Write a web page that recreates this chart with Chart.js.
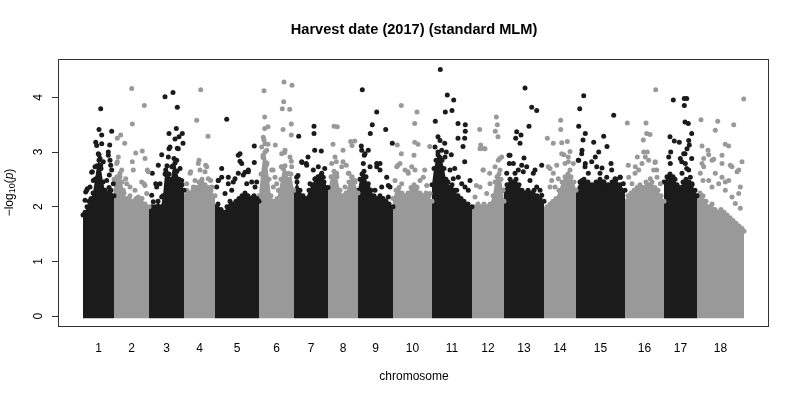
<!DOCTYPE html>
<html>
<head>
<meta charset="utf-8">
<script src="https://cdn.jsdelivr.net/npm/chart.js@4.4.0/dist/chart.umd.min.js"></script>
<style>
html, body { margin: 0; padding: 0; background: #fff; }
</style>
</head>
<body>
<canvas id="manhattan" width="800" height="400"></canvas>
<script>
// chromosome labels and their lengths (cumulative axis units)
const chromosomes = ['1','2','3','4','5','6','7','8','9','10','11','12','13','14','15','16','17','18'];
const chromLengths = [31, 35, 35, 31, 44, 35, 34, 30, 35, 39, 40, 32, 40, 32, 49, 39, 33, 47];
const yTicks = [0, 1, 2, 3, 4];
const plotTitle = 'Harvest date (2017) (standard MLM)';

// top of the solid mass of SNPs per chromosome: [position in chromosome, -log10(p)]
const denseTop = [
    [[0,1.85],[2,1.9],[4,2.0],[6,2.1],[8,2.15],[10,2.25],[12,2.5],[14,2.75],[16,2.85],[18,2.7],[20,2.45],[22,2.3],[24,2.25],[26,2.35],[28,2.3],[31,2.2]],
    [[0,2.5],[3,2.55],[6,2.55],[8,2.45],[10,2.25],[13,2.15],[16,2.2],[19,2.1],[22,2.15],[25,2.1],[28,2.15],[31,2.05],[35,2.0]],
    [[0,1.95],[3,2.0],[6,2.0],[9,2.1],[12,2.0],[14,2.2],[16,2.6],[18,2.75],[20,2.6],[22,2.5],[24,2.75],[26,2.8],[28,2.65],[30,2.5],[33,2.4],[35,2.3]],
    [[0,2.2],[3,2.3],[6,2.25],[9,2.3],[12,2.35],[15,2.45],[18,2.5],[21,2.4],[24,2.35],[27,2.3],[31,2.2]],
    [[0,2.0],[3,2.05],[6,1.95],[9,1.9],[12,2.0],[15,2.1],[18,2.05],[21,2.1],[24,2.15],[27,2.2],[30,2.25],[33,2.2],[36,2.15],[39,2.2],[42,2.15],[44,2.1]],
    [[0,2.2],[2,2.6],[4,2.9],[6,3.0],[8,2.8],[10,2.5],[12,2.2],[15,2.1],[18,2.15],[20,2.3],[22,2.5],[24,2.7],[26,2.75],[28,2.6],[30,2.5],[32,2.6],[35,2.3]],
    [[0,2.3],[3,2.45],[6,2.3],[9,2.2],[12,2.15],[15,2.3],[18,2.4],[21,2.5],[24,2.55],[27,2.5],[30,2.45],[34,2.35]],
    [[0,2.3],[3,2.55],[6,2.65],[9,2.55],[12,2.3],[15,2.2],[18,2.25],[21,2.45],[24,2.55],[27,2.45],[30,2.25]],
    [[0,2.3],[2,2.5],[4,2.6],[6,2.65],[8,2.55],[10,2.35],[13,2.3],[16,2.2],[19,2.15],[22,2.2],[25,2.15],[28,2.1],[31,2.05],[35,2.0]],
    [[0,2.15],[3,2.3],[6,2.35],[9,2.25],[12,2.2],[15,2.25],[18,2.35],[21,2.4],[24,2.35],[27,2.25],[30,2.2],[33,2.25],[36,2.2],[39,2.1]],
    [[0,2.4],[2,2.7],[4,2.85],[6,2.95],[8,2.9],[10,2.85],[12,2.7],[14,2.5],[16,2.45],[18,2.35],[20,2.4],[23,2.3],[26,2.2],[29,2.15],[32,2.1],[36,2.05],[40,2.0]],
    [[0,1.95],[3,2.0],[6,2.05],[9,2.0],[12,2.05],[15,2.0],[18,2.05],[21,2.2],[23,2.45],[25,2.55],[27,2.6],[29,2.5],[31,2.3],[32,2.1]],
    [[0,2.3],[3,2.4],[6,2.5],[9,2.45],[12,2.5],[15,2.4],[18,2.3],[21,2.25],[24,2.3],[27,2.25],[30,2.3],[33,2.2],[36,2.15],[40,2.1]],
    [[0,1.95],[3,2.0],[6,2.05],[9,2.1],[12,2.15],[15,2.3],[18,2.45],[21,2.55],[24,2.6],[27,2.55],[30,2.45],[32,2.3]],
    [[0,2.3],[4,2.45],[8,2.5],[12,2.45],[16,2.4],[20,2.45],[24,2.5],[28,2.45],[32,2.4],[36,2.45],[40,2.5],[44,2.4],[49,2.3]],
    [[0,2.1],[3,2.2],[6,2.25],[9,2.3],[12,2.35],[15,2.4],[18,2.35],[21,2.45],[24,2.4],[27,2.45],[30,2.35],[33,2.3],[36,2.2],[39,2.1]],
    [[0,2.45],[3,2.55],[6,2.6],[9,2.55],[11,2.5],[13,2.4],[16,2.35],[19,2.45],[22,2.5],[25,2.45],[28,2.4],[31,2.3],[33,2.2]],
    [[0,2.2],[3,2.25],[6,2.2],[9,2.1],[12,2.0],[15,2.05],[18,1.95],[21,1.9],[24,1.95],[27,1.9],[30,1.85],[33,1.8],[36,1.75],[39,1.7],[42,1.65],[45,1.6],[47,1.55]]
];

// speckled SNPs just above the solid mass: [position in chromosome, -log10(p)]
const bandHits = [
    [[3.7,2.30],[2,2.12],[8.7,2.63],[10.3,2.48],[7,2.36],[15.3,2.97],[17,2.88],[20.3,2.82],[25.3,3.0],[27,2.85],[28.7,2.67],[26.3,2.58],[23.7,2.48],[18.7,3.15],[13.7,3.12],[12,2.73],[30.3,2.42]],
    [[2.7,2.79],[6,2.61],[4.3,2.91],[7.7,2.67],[16,2.36],[21,2.30],[27.7,2.45],[32.7,2.24],[12.7,2.42],[24.3,2.18],[31,2.39],[9.3,2.30],[19.3,2.67],[34.3,2.64]],
    [[2.7,2.21],[7.7,2.36],[11,2.42],[4.3,2.09],[19.3,2.91],[21,3.09],[26,3.24],[29.3,3.06],[27.7,2.85],[31,2.7],[22.7,2.73],[17.7,2.58],[32.7,2.48],[12.7,2.18]],
    [[6,2.61],[11,2.48],[16,2.67],[21,2.64],[24.3,2.51],[27.7,2.36],[9.3,2.36],[2.7,2.42],[17.7,2.45],[22.7,2.73],[14.3,2.79]],
    [[3.3,2.48],[6.7,2.54],[13.3,2.42],[16.7,2.30],[20,2.51],[23.3,2.61],[28.3,2.58],[31.7,2.42],[36.7,2.45],[40,2.36],[25,2.97],[26.7,2.79],[33.3,2.67],[1.7,2.36],[10,2.24],[38.3,2.18]],
    [[4.3,3.27],[6,3.15],[7.7,3.03],[2.7,3.09],[12.7,2.67],[16,2.54],[17.7,2.42],[22.7,2.97],[26,3.03],[31,2.91],[32.7,2.73],[24.3,2.73],[14.3,2.36],[19.3,2.30],[29.3,2.61]],
    [[2.7,2.54],[7.7,2.82],[12.7,2.76],[19.3,2.67],[24.3,2.73],[27.7,2.61],[29.3,2.54],[21,2.51],[16,2.42],[31,2.36],[4.3,2.30]],
    [[3.7,2.79],[7,2.91],[8.7,2.61],[13.7,2.73],[20.3,2.61],[23.7,2.54],[27,2.48],[17,2.36]],
    [[3.7,3.03],[7,2.97],[5.3,2.79],[12,2.73],[18.7,2.79],[22,2.67],[28.7,2.54],[32,2.36],[23.7,2.36],[17,2.30],[10.3,2.42],[30.3,2.18]],
    [[3.7,2.73],[7,2.79],[12,2.67],[15.3,2.61],[18.7,2.73],[22,2.67],[27,2.48],[30.3,2.54],[33.7,2.39],[8.7,2.42],[23.7,2.36],[37,2.24],[2,2.48]],
    [[3,3.09],[8,3.21],[9.7,3.03],[13,2.91],[6.3,2.67],[18,2.67],[21.3,2.51],[26.3,2.54],[29.7,2.42],[33,2.36],[36.3,2.30],[38,2.48],[24.7,2.30]],
    [[3,2.18],[8,2.36],[11.3,2.67],[14.7,2.24],[18,2.42],[23,2.73],[26.3,2.85],[29.7,2.91],[28,2.67],[8,3.06],[13,3.06]],
    [[6,2.94],[9.3,2.79],[14.3,2.67],[17.7,2.76],[19.3,2.64],[22.7,2.73],[29.3,2.61],[32.7,2.36],[36,2.30],[37.7,2.21],[2.7,2.61],[26,2.48]],
    [[4.3,2.73],[9.3,2.61],[7.7,2.48],[14.3,2.51],[17.7,2.97],[21,2.79],[24.3,2.91],[26,2.67],[29.3,2.79],[6,2.36],[11,2.36]],
    [[2.3,2.85],[5.7,2.97],[9,2.73],[12.3,2.61],[15.7,2.82],[20.7,2.73],[24,2.61],[30.7,2.54],[35.7,2.67],[39,2.51],[44,2.54],[47.3,2.42],[27.3,2.45]],
    [[3.7,2.54],[10.3,2.73],[13.7,2.67],[17,2.79],[20.3,2.91],[23.7,2.85],[28.7,2.67],[32,2.54],[35.3,2.42],[7,2.42],[25.3,2.51],[18.7,3.0],[30.3,2.82]],
    [[4.7,2.91],[6.3,2.79],[16.3,2.88],[19.7,2.97],[21.3,2.79],[24.7,2.67],[26.3,2.54],[28,2.42],[18,2.61],[23,3.06],[24.7,3.21]],
    [[3.3,2.61],[6.7,2.73],[11.7,2.48],[15,2.36],[18.3,2.61],[21.7,2.42],[25,2.54],[28.3,2.30],[31.7,2.48],[35,2.18],[38.3,2.06],[41.7,2.24],[43.3,1.97],[6.7,2.88],[15,2.85],[25,2.79],[35,2.73],[40,2.64]]
];

// single SNPs standing well above the mass: [position in chromosome, -log10(p)]
const topHits = [
    [[17.7,3.79],[16,3.41],[18.7,3.31],[28.7,3.38],[26.7,3.13],[12.7,3.18],[16,2.95],[25.3,2.94],[9.3,2.64],[4.3,2.33],[2.7,2.27],[27.7,2.76],[17.7,2.76],[13.3,2.51]],
    [[17.7,4.16],[30.3,3.85],[18.3,3.51],[6.7,3.31],[3.3,3.25],[10.7,3.16],[21.7,2.98],[28.3,3.02],[3.3,2.82],[18.3,2.82],[31,2.88],[33.3,2.67],[11.7,2.51],[30,2.42]],
    [[16,4.01],[24,4.09],[28.3,3.82],[27.3,3.43],[33.3,3.34],[20,3.34],[30,3.28],[34,3.16],[20,3.06],[28.3,3.07],[12.7,2.95],[25,2.88],[9.3,2.76],[3.3,2.61],[16.7,2.67],[6.7,2.42]],
    [[16.7,4.14],[12.7,3.58],[24,3.29],[15,2.85],[21.7,2.76],[6.7,2.64],[26.7,2.48]],
    [[11.7,3.6],[39.3,3.11],[23.3,2.94],[39.3,2.81],[6.7,2.7],[25,2.83],[3.3,2.48],[13.3,2.54],[30,2.63],[33.3,2.64],[18.3,2.45],[41.7,2.45]],
    [[5,4.12],[25,4.28],[33,4.22],[24.7,3.92],[23.3,3.79],[30.7,3.78],[5.7,3.64],[32.3,3.51],[9,3.46],[5.7,3.43],[24,3.41],[32.3,3.31],[9,3.14],[16.3,3.13],[5,3.22],[25.7,2.99],[32.3,2.83],[4,2.94],[7.3,2.76],[22.3,2.73],[14,2.67]],
    [[4.7,3.29],[20,3.47],[20,3.34],[27.3,3.02],[20.7,3.03],[14,2.91],[8,2.81],[12.3,2.79],[30.7,2.7],[4,2.57],[26.7,2.57]],
    [[6,3.47],[9.3,3.46],[5,3.14],[15,3.03],[22.7,3.19],[26.7,3.2],[24,3.12],[8.3,2.82],[15,2.82],[21,2.61],[18.3,2.76]],
    [[4.3,4.14],[18.7,3.73],[14.3,3.5],[12.3,3.34],[3.3,3.11],[10.3,3.03],[6.3,2.94],[27.7,3.41],[34.3,3.16],[22,2.79],[18.7,2.73],[30.3,2.39]],
    [[8.3,3.85],[24,3.73],[21.7,3.52],[4.3,3.13],[21.7,3.18],[25,3.14],[36.7,3.1],[8.3,2.97],[21,2.94],[31.7,2.67],[15,2.64],[5,2.76]],
    [[8.3,4.51],[15.3,4.04],[21.7,3.95],[13.3,3.73],[20,3.76],[3.3,3.56],[26,3.52],[33.3,3.5],[33.3,3.38],[32.7,3.25],[26,3.25],[6,3.28],[12.7,3.16],[31,3.1],[6,3.0],[19.3,2.95],[14.3,3.0],[32.7,2.82],[22.7,2.7]],
    [[24.3,3.64],[25.3,3.5],[7.7,3.41],[26,3.28],[8.7,3.13],[12,3.06],[23.3,3.38],[27.7,2.88],[11,2.67],[17.7,2.61],[4.3,2.39]],
    [[21,4.17],[27.7,3.82],[32.7,3.76],[25,3.47],[12.7,3.37],[17,3.31],[11.7,3.25],[16,3.16],[5,2.94],[20,2.89],[37.7,2.76],[5.3,2.79],[11,2.61],[31,2.67]],
    [[16.7,3.58],[16.7,3.41],[3.3,3.25],[9.3,3.16],[17.7,3.17],[23.3,3.19],[20,2.95],[26,3.01],[12.7,2.76],[24.3,2.82],[6,2.7]],
    [[7.7,4.03],[3.7,3.79],[37.7,3.67],[2.7,3.47],[9.3,3.34],[27.7,3.29],[7,3.22],[17.7,3.18],[31,3.1],[22.7,3.0],[6,3.03],[19.3,2.91],[26,2.71],[35,2.79],[9.3,2.79],[2.7,2.85],[44.3,2.54],[6,2.48]],
    [[30.7,4.14],[2.3,3.53],[21,3.53],[21.7,3.34],[25,3.32],[18.3,3.22],[12.3,2.91],[22.3,3.0],[30,2.81],[3.3,2.76],[10,2.61],[31.7,2.67]],
    [[9.3,3.95],[20.3,3.98],[22.7,3.98],[20.3,3.85],[21,3.55],[24.3,3.52],[6,3.28],[27.7,3.34],[10.3,3.2],[15.3,3.18],[25.3,3.13],[6.7,3.0],[21,2.97],[17.7,2.82],[27.7,2.88],[22.7,2.7]],
    [[46.7,3.97],[4,3.59],[20.7,3.56],[36.7,3.5],[18.3,3.4],[28.3,3.14],[31.7,3.11],[5,3.11],[11,3.03],[11.7,2.95],[25,2.94],[16.7,2.87],[45,2.82],[33.3,2.76],[41.7,2.67],[5,2.79],[6,2.48],[28.3,2.45],[43.3,2.36]]
];

const colBlack = '#1b1b1b';
const colGrey = '#999999';
const fontFamily = '"Liberation Sans", Arial, Helvetica, sans-serif';

// cumulative starts and midpoints for the axis
let chromStarts = [];
let chromMids = [];
let acc = 0;
for (var i = 0; i < chromLengths.length; i++) {
    chromStarts.push(acc);
    chromMids.push(acc + chromLengths[i] / 2);
    acc += chromLengths[i];
}

function toPoints(list, start) {
    return list.map(p => ({ x: start + p[0], y: p[1] }));
}

let datasets = [];
for (var i = 0; i < chromosomes.length; i++) {
    let color = (i % 2 === 0) ? colBlack : colGrey;
    let start = chromStarts[i];
    datasets.push({
        type: 'line',
        label: 'chr' + chromosomes[i] + ' mass',
        data: toPoints(denseTop[i], start),
        borderWidth: 0,
        borderColor: color,
        backgroundColor: color,
        pointRadius: 2.5,
        pointBackgroundColor: color,
        pointBorderWidth: 0,
        fill: { value: -0.04 },
        tension: 0,
        order: 3
    });
    datasets.push({
        type: 'scatter',
        label: 'chr' + chromosomes[i],
        data: toPoints(bandHits[i], start).concat(toPoints(topHits[i], start)),
        pointRadius: 2.5,
        pointBackgroundColor: color,
        pointBorderWidth: 0,
        order: 1
    });
}

const framePlugin = {
    id: 'frame',
    afterDraw(chart) {
        const ctx = chart.ctx;
        const a = chart.chartArea;
        const yScale = chart.scales.y;
        ctx.save();
        ctx.strokeStyle = '#333';
        ctx.lineWidth = 1;
        ctx.strokeRect(a.left - 0.5, a.top + 0.5, a.right - a.left, a.bottom - a.top);

        // main title, centred over the plot region like R
        ctx.fillStyle = '#000';
        ctx.font = 'bold 14.6px ' + fontFamily;
        ctx.textAlign = 'center';
        ctx.textBaseline = 'middle';
        ctx.fillText(plotTitle, (a.left + a.right) / 2, 30);

        // y tick labels, turned like R does with las = 0
        ctx.font = '12px ' + fontFamily;
        for (const v of yTicks) {
            let py = yScale.getPixelForValue(v);
            ctx.save();
            ctx.translate(39, py);
            ctx.rotate(-Math.PI / 2);
            ctx.fillText(String(v), 0, 0);
            ctx.restore();
        }

        // y title: -log10(p)
        const parts = [
            { t: '\u2212log', f: '12px ' + fontFamily, dy: 0 },
            { t: '10', f: '9px ' + fontFamily, dy: 3 },
            { t: '(', f: '12px ' + fontFamily, dy: 0 },
            { t: 'p', f: 'italic 12px ' + fontFamily, dy: 0 },
            { t: ')', f: '12px ' + fontFamily, dy: 0 }
        ];
        let total = 0;
        for (const p of parts) {
            ctx.font = p.f;
            p.w = ctx.measureText(p.t).width;
            total += p.w;
        }
        ctx.translate(10, (a.top + a.bottom) / 2);
        ctx.rotate(-Math.PI / 2);
        ctx.textAlign = 'left';
        let x = -total / 2;
        for (const p of parts) {
            ctx.font = p.f;
            ctx.fillText(p.t, x, p.dy);
            x += p.w;
        }
        ctx.restore();
    }
};

new Chart(document.getElementById('manhattan'), {
    data: { datasets: datasets },
    options: {
        responsive: false,
        animation: false,
        events: [],
        layout: { padding: { left: 0, right: 31, top: 59, bottom: 0 } },
        plugins: {
            legend: { display: false },
            tooltip: { enabled: false },
            title: { display: false }
        },
        scales: {
            x: {
                type: 'linear',
                min: -24,
                max: 686,
                grid: { display: false, drawTicks: false },
                border: { display: false },
                afterBuildTicks: s => { s.ticks = chromMids.map(m => ({ value: m })); },
                afterFit: s => { s.height = 74; },
                ticks: {
                    autoSkip: false,
                    maxRotation: 0,
                    minRotation: 0,
                    padding: 15,
                    color: '#000',
                    font: { family: fontFamily, size: 12 },
                    callback: (v, idx) => chromosomes[idx]
                },
                title: {
                    display: true,
                    text: 'chromosome',
                    color: '#000',
                    font: { family: fontFamily, size: 12 },
                    padding: { top: 0, bottom: 16 }
                }
            },
            y: {
                type: 'linear',
                min: -0.18,
                max: 4.70,
                afterBuildTicks: s => { s.ticks = yTicks.map(v => ({ value: v })); },
                afterFit: s => { s.width = 59; },
                grid: { drawOnChartArea: false, drawTicks: true, tickLength: 7, color: '#333' },
                border: { display: false },
                ticks: { display: false }
            }
        }
    },
    plugins: [framePlugin]
});
</script>
</body>
</html>
